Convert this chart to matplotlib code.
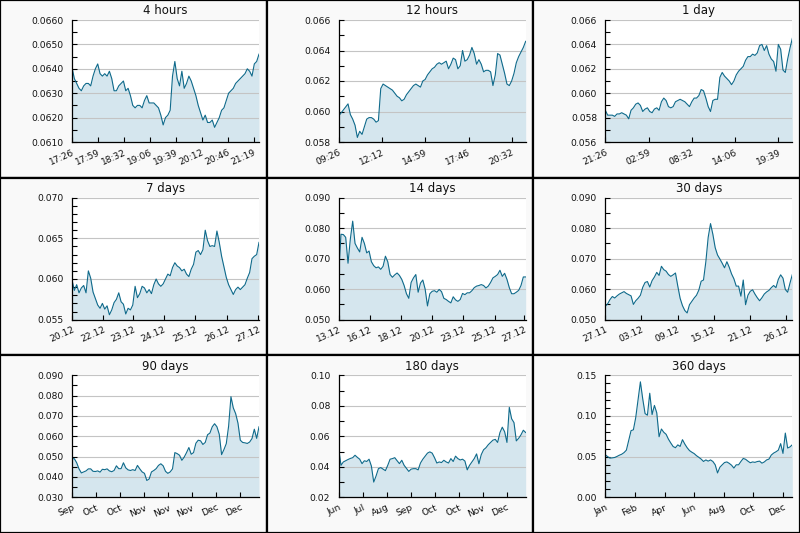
import numpy as np
import matplotlib
matplotlib.use("Agg")
import matplotlib.pyplot as plt
from matplotlib.patches import Rectangle
from matplotlib.ticker import MultipleLocator, FormatStrFormatter, FixedLocator

# ---------------- data ----------------
titles = ["4 hours", "12 hours", "1 day", "7 days", "14 days", "30 days",
          "90 days", "180 days", "360 days"]

# spans (minutes for the intraday charts, days for the rest)
spans = [240, 720, 1440, 7, 14, 30, 90, 180, 360]

v_4h = [0.06406, 0.0636, 0.0634, 0.0632, 0.0631, 0.0633, 0.0634, 0.0634, 0.0633, 0.0637,
        0.0640, 0.0642, 0.0638, 0.0637, 0.0638, 0.0637, 0.0639, 0.0636, 0.0631, 0.0631,
        0.0633, 0.0634, 0.0635, 0.0631, 0.0632, 0.0629, 0.0625, 0.0624, 0.0625, 0.0625,
        0.0624, 0.0627, 0.0629, 0.0626, 0.0626, 0.0626, 0.0625, 0.0624, 0.0621, 0.0617,
        0.0620, 0.0621, 0.0623, 0.0637, 0.0643, 0.0636, 0.0633, 0.0639, 0.0632, 0.0634,
        0.0637, 0.0635, 0.0632, 0.0629, 0.0625, 0.0622, 0.0619, 0.0621, 0.0618, 0.0618,
        0.0619, 0.0616, 0.0618, 0.0620, 0.0623, 0.0624, 0.0627, 0.0630, 0.0631, 0.0632,
        0.0634, 0.0635, 0.0636, 0.0637, 0.0638, 0.0640, 0.0639, 0.0637, 0.0642, 0.0643,
        0.0646]

v_12h = [0.0597, 0.0599, 0.0601, 0.0603, 0.0605, 0.0598, 0.0595, 0.0591, 0.0583, 0.0587,
         0.0585, 0.0590, 0.0595, 0.0596, 0.0596, 0.0595, 0.0593, 0.0594, 0.0615, 0.0618,
         0.0617, 0.0616, 0.0615, 0.0614, 0.0612, 0.0610, 0.0609, 0.0607, 0.0608, 0.0611,
         0.0613, 0.0615, 0.0617, 0.0618, 0.0617, 0.0616, 0.0620, 0.0621, 0.0624, 0.0626,
         0.0628, 0.0629, 0.0631, 0.0632, 0.0631, 0.0632, 0.0633, 0.0628, 0.0631, 0.0635,
         0.0634, 0.0628, 0.0630, 0.0640, 0.0633, 0.0634, 0.0637, 0.0642, 0.0638, 0.0631,
         0.0634, 0.0631, 0.0626, 0.0627, 0.0627, 0.0626, 0.0617, 0.0624, 0.0638, 0.0637,
         0.0631, 0.0625, 0.0618, 0.0617, 0.0620, 0.0625, 0.0632, 0.0636, 0.0639, 0.0642,
         0.0646]

v_1d = [0.0586, 0.0582, 0.0582, 0.0582, 0.0581, 0.0583, 0.0583, 0.0584, 0.0583, 0.0582,
        0.0579, 0.0586, 0.0588, 0.0591, 0.0592, 0.0590, 0.0585, 0.0587, 0.0588, 0.0585,
        0.0584, 0.0587, 0.0588, 0.0586, 0.0593, 0.0596, 0.0594, 0.0589, 0.0588, 0.0589,
        0.0593, 0.0594, 0.0595, 0.0594, 0.0593, 0.0591, 0.0589, 0.0593, 0.0596, 0.0596,
        0.0598, 0.0603, 0.0602, 0.0596, 0.0589, 0.0585, 0.0594, 0.0595, 0.0595, 0.0613,
        0.0617, 0.0614, 0.0612, 0.0610, 0.0607, 0.0610, 0.0615, 0.0618, 0.0620, 0.0622,
        0.0627, 0.0630, 0.0630, 0.0632, 0.0631, 0.0633, 0.0639, 0.0640, 0.0635, 0.0639,
        0.0632, 0.0628, 0.0626, 0.0618, 0.0640, 0.0636, 0.0619, 0.0617, 0.0628, 0.0637,
        0.0645]

v_7d = [0.0599, 0.0586, 0.0593, 0.0583, 0.0589, 0.0592, 0.0583, 0.0610, 0.0601, 0.0584,
        0.0576, 0.0568, 0.0564, 0.0570, 0.0563, 0.0567, 0.0556, 0.0562, 0.0571, 0.0575,
        0.0583, 0.0572, 0.0569, 0.0557, 0.0564, 0.0562, 0.0568, 0.0591, 0.0577, 0.0582,
        0.0591, 0.0589, 0.0583, 0.0587, 0.0582, 0.0593, 0.0600, 0.0594, 0.0591, 0.0594,
        0.0600, 0.0606, 0.0604, 0.0614, 0.0620, 0.0616, 0.0614, 0.0610, 0.0612, 0.0606,
        0.0603, 0.0612, 0.0618, 0.0633, 0.0635, 0.0630, 0.0636, 0.0660, 0.0647, 0.0640,
        0.0641, 0.0640, 0.0659, 0.0645, 0.0628, 0.0615, 0.0602, 0.0593, 0.0587, 0.0581,
        0.0587, 0.0590, 0.0587, 0.0590, 0.0593, 0.0601, 0.0608, 0.0625, 0.0628, 0.0630,
        0.0645]

v_14d = [0.0648, 0.0780, 0.0779, 0.0770, 0.0685, 0.0765, 0.0823, 0.0750, 0.0735, 0.0722,
         0.0770, 0.0750, 0.0719, 0.0725, 0.0690, 0.0677, 0.0670, 0.0673, 0.0665, 0.0675,
         0.0708, 0.0690, 0.0648, 0.0639, 0.0647, 0.0653, 0.0645, 0.0632, 0.0612, 0.0585,
         0.0570, 0.0622, 0.0637, 0.0648, 0.0590, 0.0620, 0.0630, 0.0600, 0.0545, 0.0585,
         0.0593, 0.0595, 0.0590, 0.0599, 0.0592, 0.0570, 0.0566, 0.0560, 0.0555, 0.0575,
         0.0565, 0.0560, 0.0566, 0.0586, 0.0582, 0.0588, 0.0588, 0.0595, 0.0605, 0.0610,
         0.0612, 0.0615, 0.0612, 0.0604, 0.0610, 0.0622, 0.0637, 0.0642, 0.0648, 0.0662,
         0.0642, 0.0652, 0.0632, 0.0605, 0.0585, 0.0585, 0.0590, 0.0596, 0.0612, 0.0640,
         0.0640]

v_30d = [0.0544, 0.0552, 0.0566, 0.0576, 0.0571, 0.0578, 0.0584, 0.0588, 0.0592, 0.0586,
         0.0582, 0.0578, 0.0550, 0.0562, 0.0570, 0.0580, 0.0606, 0.0622, 0.0625, 0.0607,
         0.0628, 0.0640, 0.0655, 0.0645, 0.0675, 0.0664, 0.0659, 0.0648, 0.0642, 0.0647,
         0.0653, 0.0610, 0.0570, 0.0546, 0.0530, 0.0522, 0.0549, 0.0560, 0.0571, 0.0580,
         0.0597, 0.0626, 0.0630, 0.0690, 0.0770, 0.0815, 0.0780, 0.0736, 0.0712, 0.0699,
         0.0685, 0.0670, 0.0690, 0.0672, 0.0650, 0.0634, 0.0610, 0.0610, 0.0577, 0.0630,
         0.0549, 0.0580, 0.0593, 0.0598, 0.0584, 0.0572, 0.0562, 0.0572, 0.0584, 0.0591,
         0.0596, 0.0605, 0.0612, 0.0605, 0.0632, 0.0647, 0.0636, 0.0599, 0.0590, 0.0620,
         0.0648]

v_90d = [0.0490, 0.0490, 0.0470, 0.0440, 0.0420, 0.0425, 0.0430, 0.0440, 0.0440, 0.0428,
         0.0427, 0.0430, 0.0424, 0.0438, 0.0436, 0.0440, 0.0430, 0.0426, 0.0432, 0.0455,
         0.0441, 0.0441, 0.0470, 0.0445, 0.0435, 0.0432, 0.0436, 0.0432, 0.0457, 0.0440,
         0.0425, 0.0418, 0.0383, 0.0390, 0.0425, 0.0432, 0.0441, 0.0457, 0.0465, 0.0455,
         0.0428, 0.0418, 0.0425, 0.0440, 0.0520, 0.0515, 0.0507, 0.0482, 0.0498, 0.0520,
         0.0545, 0.0512, 0.0520, 0.0566, 0.0581, 0.0578, 0.0560, 0.0570, 0.0608, 0.0616,
         0.0647, 0.0662, 0.0647, 0.0610, 0.0510, 0.0535, 0.0564, 0.0650, 0.0795, 0.0740,
         0.0712, 0.0665, 0.0581, 0.0570, 0.0568, 0.0565, 0.0572, 0.0589, 0.0635, 0.0590,
         0.0647]

v_180d = [0.0520, 0.0410, 0.0432, 0.0440, 0.0448, 0.0455, 0.0460, 0.0476, 0.0462, 0.0450,
          0.0421, 0.0440, 0.0435, 0.0450, 0.0405, 0.0300, 0.0340, 0.0388, 0.0395, 0.0385,
          0.0375, 0.0410, 0.0450, 0.0454, 0.0460, 0.0440, 0.0421, 0.0443, 0.0410, 0.0390,
          0.0370, 0.0385, 0.0388, 0.0388, 0.0380, 0.0425, 0.0450, 0.0470, 0.0490, 0.0498,
          0.0490, 0.0460, 0.0425, 0.0432, 0.0428, 0.0443, 0.0432, 0.0425, 0.0454, 0.0435,
          0.0470, 0.0454, 0.0445, 0.0450, 0.0438, 0.0380, 0.0410, 0.0432, 0.0454, 0.0485,
          0.0420, 0.0480, 0.0512, 0.0525, 0.0545, 0.0560, 0.0575, 0.0580, 0.0560, 0.0625,
          0.0660, 0.0630, 0.0560, 0.0790, 0.0715, 0.0690, 0.0570, 0.0587, 0.0610, 0.0640,
          0.0625]

v_360d = [0.0523, 0.0500, 0.0482, 0.0485, 0.0490, 0.0503, 0.0518, 0.0530, 0.0550, 0.0580,
          0.0700, 0.0820, 0.0830, 0.0980, 0.1200, 0.1420, 0.1210, 0.1030, 0.1010, 0.1280,
          0.1018, 0.1130, 0.1039, 0.0745, 0.0840, 0.0800, 0.0775, 0.0715, 0.0668, 0.0625,
          0.0610, 0.0645, 0.0626, 0.0709, 0.0655, 0.0610, 0.0575, 0.0555, 0.0538, 0.0512,
          0.0492, 0.0470, 0.0441, 0.0460, 0.0445, 0.0460, 0.0441, 0.0400, 0.0300, 0.0370,
          0.0400, 0.0428, 0.0435, 0.0418, 0.0395, 0.0360, 0.0400, 0.0400, 0.0441, 0.0478,
          0.0468, 0.0445, 0.0425, 0.0435, 0.0430, 0.0440, 0.0445, 0.0420, 0.0435, 0.0460,
          0.0470, 0.0520, 0.0544, 0.0560, 0.0580, 0.0660, 0.0540, 0.0790, 0.0606, 0.0620,
          0.0647]

series = [v_4h, v_12h, v_1d, v_7d, v_14d, v_30d, v_90d, v_180d, v_360d]

tick_pos = [
    [0, 33.3, 66.7, 100, 133.3, 166.7, 200, 233.3],
    [0, 166, 333, 500, 666],
    [0, 333, 666, 1000, 1333],
    [0, 1.16, 2.29, 3.44, 4.6, 5.8, 6.96],
    [0, 2.33, 4.67, 7.0, 9.33, 11.67, 13.9],
    [0, 5.8, 11.6, 17.4, 23.2, 29.0],
    [0, 11.55, 23.1, 34.65, 46.2, 57.75, 69.3, 80.85],
    [0, 23.1, 46.2, 69.3, 92.4, 115.5, 138.6, 161.7],
    [0, 57, 114, 171, 228, 285, 342],
]
tick_labels = [
    ["17:26", "17:59", "18:32", "19:06", "19:39", "20:12", "20:46", "21:19"],
    ["09:26", "12:12", "14:59", "17:46", "20:32"],
    ["21:26", "02:59", "08:32", "14:06", "19:39"],
    ["20.12", "22.12", "23.12", "24.12", "25.12", "26.12", "27.12"],
    ["13.12", "16.12", "18.12", "20.12", "23.12", "25.12", "27.12"],
    ["27.11", "03.12", "09.12", "15.12", "21.12", "26.12"],
    ["Sep", "Oct", "Oct", "Nov", "Nov", "Nov", "Dec", "Dec"],
    ["Jun", "Jul", "Aug", "Sep", "Oct", "Oct", "Nov", "Dec"],
    ["Jan", "Feb", "Apr", "Jun", "Aug", "Oct", "Dec"],
]
ylims = [(0.0610, 0.0660), (0.058, 0.066), (0.056, 0.066),
         (0.055, 0.070), (0.050, 0.090), (0.050, 0.090),
         (0.030, 0.090), (0.02, 0.10), (0.00, 0.15)]
y_major = [0.001, 0.002, 0.002, 0.005, 0.010, 0.010, 0.010, 0.02, 0.05]
y_minor = [0.0005, 0.001, 0.001, 0.001, 0.005, 0.005, 0.005, 0.01, 0.01]
y_fmt = ["%.4f", "%.3f", "%.3f", "%.3f", "%.3f", "%.3f", "%.3f", "%.2f", "%.2f"]

# ---------------- drawing ----------------
LINE = "#0f6a8b"
FILL = "#d5e6ee"
W, H = 800, 533
fig = plt.figure(figsize=(8, 5.33), dpi=100)
fig.patch.set_facecolor("white")

pw, ph = W / 3, H / 3
for idx in range(9):
    r, c = divmod(idx, 3)
    fig.patches.append(Rectangle((c * pw / W, 1 - (r + 1) * ph / H), pw / W, ph / H,
                                 transform=fig.transFigure, facecolor="#f9f9f9",
                                 edgecolor="black", lw=1.6, zorder=-10))
    ax = fig.add_axes([(c * pw + 72) / W, 1 - (r * ph + 142) / H, 187 / W, 122 / H])
    ax.set_zorder(5)
    ax.set_facecolor("white")
    vals = np.array(series[idx])
    x = np.linspace(0, spans[idx], len(vals))
    lo, hi = ylims[idx]
    ax.fill_between(x, vals, lo, color=FILL, lw=0, zorder=1)
    ax.plot(x, vals, color=LINE, lw=0.8, zorder=3)
    ax.set_xlim(0, spans[idx])
    ax.set_ylim(lo, hi)
    ax.yaxis.set_major_locator(MultipleLocator(y_major[idx]))
    ax.yaxis.set_minor_locator(MultipleLocator(y_minor[idx]))
    ax.yaxis.set_major_formatter(FormatStrFormatter(y_fmt[idx]))
    ax.xaxis.set_major_locator(FixedLocator(tick_pos[idx]))
    ax.set_xticklabels(tick_labels[idx], rotation=24, ha="right",
                       rotation_mode="anchor")
    ax.set_axisbelow(False)
    ax.yaxis.grid(True, which="major", color="#c4c4c4", lw=0.8, zorder=2)
    for s in ("top", "right"):
        ax.spines[s].set_visible(False)
    for s in ("left", "bottom"):
        ax.spines[s].set_color("black")
        ax.spines[s].set_linewidth(0.9)
        ax.spines[s].set_zorder(4)
    ax.tick_params(axis="both", which="both", direction="in", length=3.5,
                   width=0.8, color="black", labelsize=6.6, labelcolor="#111111")
    ax.tick_params(axis="y", which="both", pad=6, right=False)
    ax.tick_params(axis="x", which="both", pad=4, top=False)
    ax.set_title(titles[idx], fontsize=8.5, pad=4, color="#111111")

fig.savefig("out.png", dpi=100, facecolor="white")
